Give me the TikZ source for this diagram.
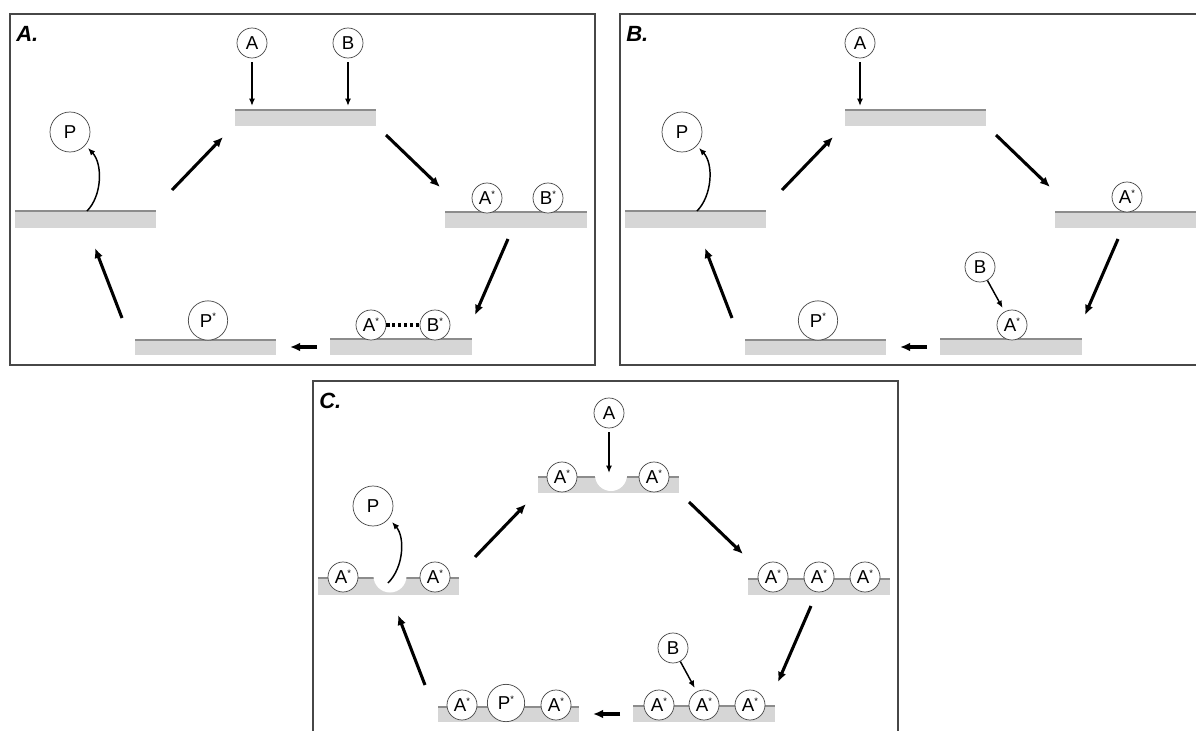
\documentclass[tikz,border=0pt]{standalone}
\usepackage{fontspec}
\setmainfont{Liberation Sans}
\usetikzlibrary{arrows.meta}
\tikzset{
  mol/.style={circle, draw=black!70, line width=0.55pt, fill=white, inner sep=0pt,
    minimum size=22.5pt, font=\fontsize{14}{14}\selectfont},
  bigmol/.style={mol, minimum size=29.5pt},
  surf/.style={fill=black!16},
  surfline/.style={draw=black!45, line width=0.9pt},
  bigarrow/.style={-{Latex[length=7.5pt,width=6.5pt]}, line width=2.3pt},
  smallarrow/.style={-{Latex[length=5.5pt,width=4.5pt]}, line width=1.1pt},
  panelframe/.style={draw=black!72, line width=1.8pt},
  plabel/.style={font=\fontsize{16.5}{16.5}\selectfont\bfseries\itshape, anchor=north west, inner sep=0pt},
  bond/.style={line width=2.4pt, dash pattern=on 2.4pt off 2pt},
  dip/.style={fill=white},
}
\newcommand\st{\raisebox{0.4em}{\fontsize{7}{7}\selectfont *}}
\newcommand\surface[4]{\fill[surf] (#1,#2) rectangle (#3,#4); \draw[surfline] (#1,#2) -- (#3,#2);}
\newcommand\basepanel[1]{%
  \draw[panelframe] (10,14) rectangle (595,365);
  \node[plabel] (lab) at (16,26) {#1};
  \surface{15}{211}{156}{228}
  \surface{235}{110}{376}{126}
  \surface{445}{212}{587}{228}
  \surface{330}{339}{472}{355}
  \surface{135}{340}{276}{355}
  \coordinate (e1s) at (172,190); \coordinate (e1e) at (223,137);
  \coordinate (e2s) at (386,135); \coordinate (e2e) at (440,187);
  \coordinate (e3s) at (508,239); \coordinate (e3e) at (475,315);
  \coordinate (e4s) at (317,347); \coordinate (e4e) at (290,347);
  \coordinate (e5s) at (122,318); \coordinate (e5e) at (95,248);
  \draw[bigarrow] (e1s) -- (e1e);
  \draw[bigarrow] (e2s) -- (e2e);
  \draw[bigarrow] (e3s) -- (e3e);
  \draw[bigarrow] (e4s) -- (e4e);
  \draw[bigarrow] (e5s) -- (e5e);
}
\begin{document}
\begin{tikzpicture}[x=0.75pt,y=-0.75pt]
\clip (0,0) rectangle (1196,731);
\fill[white] (0,0) rectangle (1196,731);
% ---------------- Panel A
\begin{scope}[name prefix=a-]
  \basepanel{A.}
  \node[mol] (A) at (252,43) {A};
  \coordinate (Ae) at (252,106);
  \draw[smallarrow, shorten <=3pt] (A) -- (Ae);
  \node[mol] (B) at (348,43) {B};
  \coordinate (Be) at (348,106);
  \draw[smallarrow, shorten <=3pt] (B) -- (Be);
  \node[mol, minimum size=30pt] (P) at (70,132) {P};
  \coordinate (Ps) at (87,211);
  \coordinate (Pe) at (88,148);
  \draw[smallarrow] (Ps) .. controls (102,196) and (103,164) .. (Pe);
  \node[mol] (As1) at (487,198) {A\st};
  \node[mol] (Bs1) at (548,198) {B\st};
  \node[mol] (As2) at (371,325) {A\st};
  \node[mol] (Bs2) at (435,325) {B\st};
  \draw[bond] (As2) -- (Bs2);
  \node[bigmol] (Ps2) at (208,320.5) {P\st};
\end{scope}
% ---------------- Panel B
\begin{scope}[shift={(610,0)}, name prefix=b-]
  \basepanel{B.}
  \node[mol] (A) at (250,43) {A};
  \coordinate (Ae) at (250,106);
  \draw[smallarrow, shorten <=3pt] (A) -- (Ae);
  \node[mol, minimum size=30pt] (P) at (72,132) {P};
  \coordinate (Ps) at (87,211);
  \coordinate (Pe) at (89,148);
  \draw[smallarrow] (Ps) .. controls (102,196) and (104,164) .. (Pe);
  \node[mol] (As1) at (517,197) {A\st};
  \node[mol] (B) at (370,267) {B};
  \node[mol] (As2) at (402,325) {A\st};
  \draw[smallarrow, shorten >=3pt] (B) -- (As2);
  \node[bigmol] (Ps2) at (208,320.5) {P\st};
\end{scope}
% ---------------- Panel C
\begin{scope}[shift={(303,367)}, name prefix=c-]
  \basepanel{C.}
  % dips
  \fill[dip] (308,108) circle (16);
  \fill[dip] (87,209) circle (16.5);
  \node[mol] (A) at (306,46) {A};
  \coordinate (Ae) at (306,106);
  \draw[smallarrow, shorten <=3pt] (A) -- (Ae);
  \node[mol] (T1) at (259,110) {A\st};
  \node[mol] (T2) at (351,110) {A\st};
  \node[mol] (R1) at (470,210) {A\st};
  \node[mol] (R2) at (516,210) {A\st};
  \node[mol] (R3) at (562,210) {A\st};
  \node[mol] (S1) at (356,338) {A\st};
  \node[mol] (S2) at (401,338) {A\st};
  \node[mol] (S3) at (447,338) {A\st};
  \node[mol] (B) at (370,281) {B};
  \draw[smallarrow, shorten >=3pt] (B) -- (S2);
  \node[mol] (L1) at (159,338) {A\st};
  \node[mol, minimum size=28pt] (Ps2) at (203,336) {P\st};
  \node[mol] (L2) at (253,338) {A\st};
  \node[mol] (M1) at (40,210) {A\st};
  \node[mol] (M2) at (132,210) {A\st};
  \node[mol, minimum size=30pt] (P) at (70,139) {P};
  \coordinate (Ps) at (85,216);
  \coordinate (Pe) at (89,155);
  \draw[smallarrow] (Ps) .. controls (101,200) and (102,170) .. (Pe);
\end{scope}
\end{tikzpicture}
\end{document}
